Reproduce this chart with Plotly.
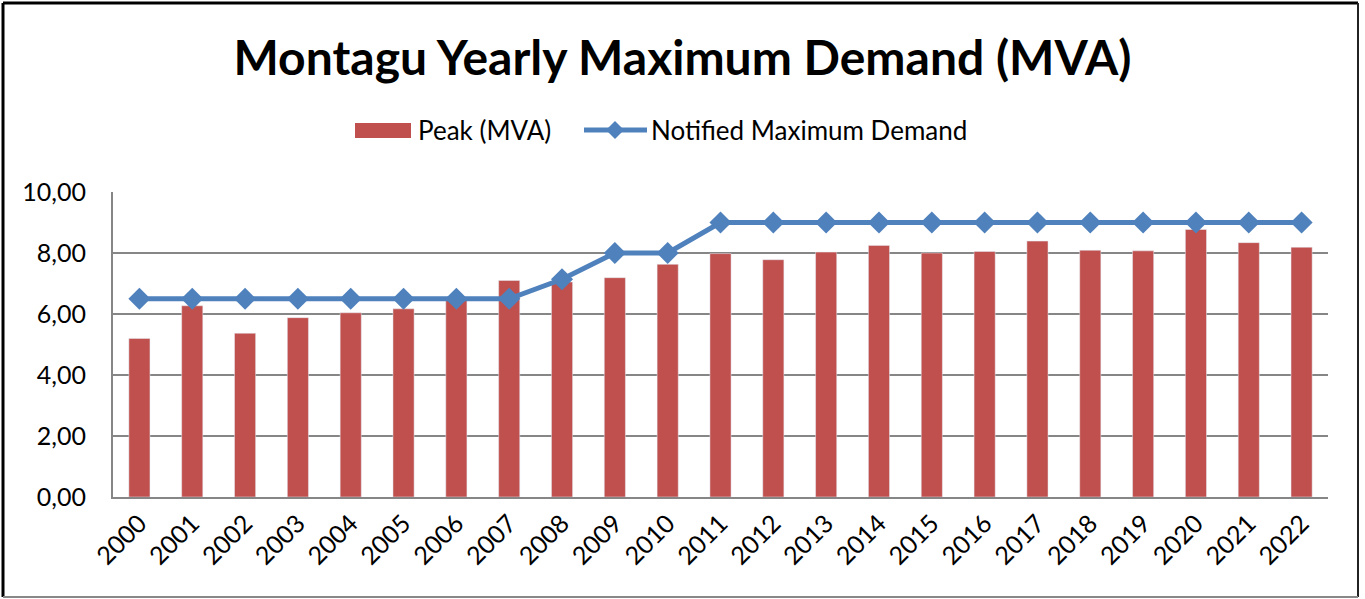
import plotly.graph_objects as go

years = [str(y) for y in range(2000, 2023)]
peak = [5.20, 6.27, 5.37, 5.88, 6.04, 6.17, 6.45, 7.10, 7.05, 7.19, 7.63, 7.98, 7.78,
        8.03, 8.25, 8.00, 8.05, 8.39, 8.09, 8.07, 8.77, 8.34, 8.19]
nmd = [6.5, 6.5, 6.5, 6.5, 6.5, 6.5, 6.5, 6.5, 7.14, 8.0, 8.0, 9.0, 9.0,
       9.0, 9.0, 9.0, 9.0, 9.0, 9.0, 9.0, 9.0, 9.0, 9.0]
ytick_vals = [0, 2, 4, 6, 8, 10]
ytick_text = ["0,00", "2,00", "4,00", "6,00", "8,00", "10,00"]
series_names = ["Peak (MVA)", "Notified Maximum Demand"]

W, H = 1365, 599
L, R, T, B = 113, 37, 192, 102
pw, ph = W - L - R, H - T - B

BAR_C = "#C0504D"
LINE_C = "#4F81BD"
font_family = "Lato, Calibri, Carlito, sans-serif"


def px_x(p):
    return (p - L) / pw


def px_y(p):
    return (H - B - p) / ph


fig = go.Figure()
fig.add_trace(go.Bar(x=years, y=peak, name=series_names[0], marker=dict(color=BAR_C),
                     showlegend=False))
fig.add_trace(go.Scatter(x=years, y=nmd, name=series_names[1], mode="lines+markers",
                         line=dict(color=LINE_C, width=5),
                         marker=dict(symbol="diamond", size=17, color=LINE_C),
                         showlegend=False))

shapes = []
# outer chart border
shapes.append(dict(type="line", xref="paper", yref="paper", x0=px_x(3), x1=px_x(1358),
                   y0=px_y(3), y1=px_y(3), line=dict(color="#000000", width=3)))
shapes.append(dict(type="line", xref="paper", yref="paper", x0=px_x(3), x1=px_x(3),
                   y0=px_y(3), y1=px_y(597), line=dict(color="#000000", width=3)))
shapes.append(dict(type="line", xref="paper", yref="paper", x0=px_x(1358), x1=px_x(1358),
                   y0=px_y(3), y1=px_y(597), line=dict(color="#222222", width=2)))
shapes.append(dict(type="line", xref="paper", yref="paper", x0=px_x(3), x1=px_x(1358),
                   y0=px_y(597), y1=px_y(597), line=dict(color="#888888", width=2)))

# custom legend
shapes.append(dict(type="rect", xref="paper", yref="paper", x0=px_x(355), x1=px_x(411),
                   y0=px_y(138), y1=px_y(123), fillcolor=BAR_C, line=dict(width=0)))
shapes.append(dict(type="line", xref="paper", yref="paper", x0=px_x(584), x1=px_x(647),
                   y0=px_y(130), y1=px_y(130), line=dict(color=LINE_C, width=5)))
cx, cy, d = 615, 130, 9
path = "M {} {} L {} {} L {} {} L {} {} Z".format(
    px_x(cx - d), px_y(cy), px_x(cx), px_y(cy - d), px_x(cx + d), px_y(cy), px_x(cx), px_y(cy + d))
shapes.append(dict(type="path", xref="paper", yref="paper", path=path,
                   fillcolor=LINE_C, line=dict(width=0)))

annotations = [
    dict(text=series_names[0], xref="paper", yref="paper", x=px_x(416), y=px_y(130),
         xanchor="left", yanchor="middle", showarrow=False,
         font=dict(size=26, family=font_family, color="#000000")),
    dict(text=series_names[1], xref="paper", yref="paper", x=px_x(649), y=px_y(130),
         xanchor="left", yanchor="middle", showarrow=False,
         font=dict(size=26, family=font_family, color="#000000")),
]

fig.update_layout(
    width=W, height=H,
    margin=dict(l=L, r=R, t=T, b=B),
    paper_bgcolor="white", plot_bgcolor="white",
    bargap=0.6,
    showlegend=False,
    shapes=shapes,
    annotations=annotations,
    font=dict(family=font_family, color="#000000"),
    title=dict(text="<b>Montagu Yearly Maximum Demand (MVA)</b>", x=0.5, xanchor="center",
               y=1 - 58 / H, yanchor="middle",
               font=dict(size=48, family=font_family, color="#000000")),
    xaxis=dict(type="category", range=[-0.5, len(years) - 0.5], autorange=False,
               tickangle=-45, tickfont=dict(size=25, family=font_family),
               showline=True, linecolor="#868686", linewidth=2, ticks="", showgrid=False),
    yaxis=dict(range=[0, 10], tickvals=ytick_vals, ticktext=ytick_text,
               tickfont=dict(size=25, family=font_family), showgrid=True, gridcolor="#868686",
               gridwidth=1.5, showline=True, linecolor="#868686", linewidth=2, zeroline=False,
               ticks="", ticklen=0, ticklabelstandoff=20),
)

fig.write_html("out.html", config={"displayModeBar": False},
               post_script="document.body.style.margin='0';document.body.style.overflow='hidden';")
